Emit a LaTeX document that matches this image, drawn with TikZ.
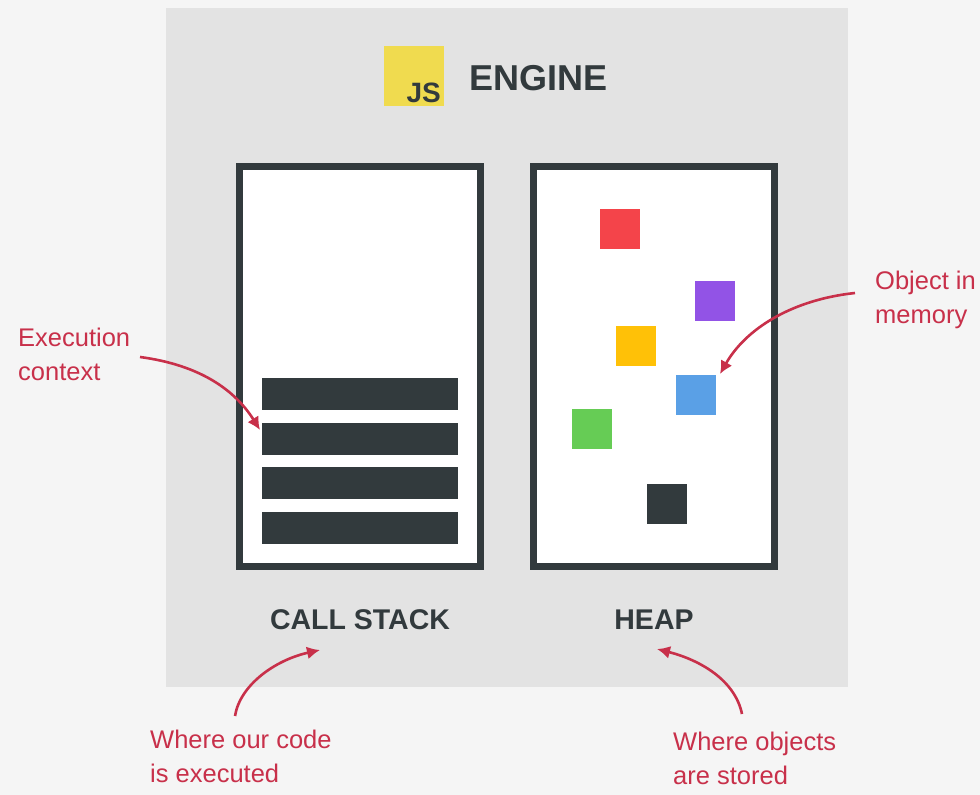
\documentclass[tikz,border=0pt]{standalone}
\usepackage{fontspec}
\setmainfont{Liberation Sans}
\begin{document}
\begin{tikzpicture}[x=1pt,y=-1pt,
  lbl/.style={text=labred,font=\fontsize{25.5}{34}\selectfont,align=left,inner sep=0},
  arr/.style={draw=labred,line width=2.6pt,-{Latex[length=13pt,width=13pt]}},
  panel/.style={draw=dark,line width=7pt,fill=white},
  bar/.style={fill=dark,minimum width=196pt,minimum height=32pt,inner sep=0},
  sq/.style={minimum size=40pt,inner sep=0}]
\usetikzlibrary{arrows.meta}
\definecolor{labred}{HTML}{C8304A}
\definecolor{dark}{HTML}{323A3D}
\definecolor{bg}{HTML}{F5F5F5}
\definecolor{pan}{HTML}{E3E3E3}
\definecolor{jsy}{HTML}{F0DB4F}
\fill[bg] (0,0) rectangle (980,795);
\useasboundingbox (0,0) rectangle (980,795);
\fill[pan] (166,8) rectangle (848,687);
% logo
\node[fill=jsy,minimum size=60pt,inner sep=0] (logo) at (414,76) {};
\node[anchor=south east,inner sep=0,font=\bfseries\fontsize{28}{28}\selectfont,text=dark] (js) at (441,103) {JS};
\node[anchor=west,inner sep=0,font=\bfseries\fontsize{36}{36}\selectfont,text=dark] (eng) at (469,78) {ENGINE};
% boxes
\draw[panel] (239.5,166.5) rectangle (480.5,566.5);
\draw[panel] (533.5,166.5) rectangle (774.5,566.5);
\node[bar] (b1) at (360,394) {};
\node[bar] (b2) at (360,439) {};
\node[bar] (b3) at (360,483) {};
\node[bar] (b4) at (360,528) {};
\node[sq,fill={rgb,255:red,244;green,68;blue,74}] (r) at (620,229) {};
\node[sq,fill={rgb,255:red,146;green,83;blue,230}] (p) at (715,301) {};
\node[sq,fill={rgb,255:red,255;green,193;blue,7}] (y) at (636,346) {};
\node[sq,fill={rgb,255:red,90;green,160;blue,230}] (bl) at (696,395) {};
\node[sq,fill={rgb,255:red,102;green,204;blue,85}] (g) at (592,429) {};
\node[sq,fill=dark] (d) at (667,504) {};
\node[font=\bfseries\fontsize{28.5}{28}\selectfont,text=dark,inner sep=0] (cs) at (360,620) {CALL STACK};
\node[font=\bfseries\fontsize{28.5}{28}\selectfont,text=dark,inner sep=0] (hp) at (654,620) {HEAP};
% labels
\node[lbl,anchor=north west] (ec) at (18,328) {Execution\\context};
\node[lbl,anchor=north west] (om) at (875,271) {Object in\\memory};
\node[lbl,anchor=north west] (wc) at (150,730) {Where our code\\is executed};
\node[lbl,anchor=north west] (wo) at (673,732) {Where objects\\are stored};
\coordinate (ecs) at (140,357);
\coordinate (ece) at (260,430);
\coordinate (oms) at (855,293);
\coordinate (ome) at (720,374);
\coordinate (wcs) at (235,716);
\coordinate (wce) at (320,650);
\coordinate (wos) at (742,714);
\coordinate (woe) at (657,649);
\draw[arr] (ecs) .. controls (200,365) and (235,390) .. (ece);
\draw[arr] (oms) .. controls (790,300) and (745,330) .. (ome);
\draw[arr] (wcs) .. controls (240,685) and (275,660) .. (wce);
\draw[arr] (wos) .. controls (735,680) and (700,660) .. (woe);
\end{tikzpicture}
\end{document}
